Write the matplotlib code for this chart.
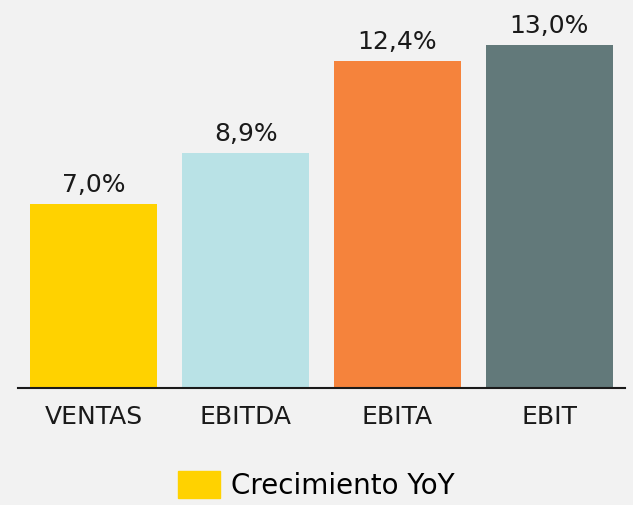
import matplotlib
matplotlib.use("Agg")
import matplotlib.pyplot as plt
from matplotlib.patches import Patch

# Data
categorias = ["VENTAS", "EBITDA", "EBITA", "EBIT"]
crecimiento = [7.0, 8.9, 12.4, 13.0]
colores = ["#FFD200", "#B9E2E6", "#F5833C", "#62797A"]
serie = "Crecimiento YoY"

plt.rcParams['font.family'] = ['DejaVu Sans']
fondo = "#F2F2F2"

fig = plt.figure(figsize=(6.33, 5.05), dpi=100, facecolor=fondo)
ax = fig.add_axes([18/633, (505-388)/505, (625-18)/633, (388-19)/505])
ax.set_facecolor(fondo)

x = range(len(categorias))
ax.bar(x, crecimiento, width=0.837, color=colores)

for xi, v in zip(x, crecimiento):
    ax.annotate(f"{v:.1f}%".replace(".", ","), (xi, v), xytext=(0, 5),
                textcoords="offset points", ha="center", va="bottom",
                fontsize=18, color="#1a1a1a")

ax.set_xlim(-0.5, 3.5)
ax.set_ylim(0, 14)
ax.set_xticks(list(x))
ax.set_xticklabels(categorias, fontsize=18, color="#1a1a1a")
ax.tick_params(axis="x", length=0, pad=12)
ax.set_yticks([])
for lado in ["top", "right", "left"]:
    ax.spines[lado].set_visible(False)
ax.spines["bottom"].set_linewidth(1.5)
ax.spines["bottom"].set_color("#1a1a1a")

# Legend only shows the first colour
fig.legend(handles=[Patch(color=colores[0], label=serie)], loc="lower center",
           bbox_to_anchor=(0.5, -0.04), frameon=False, fontsize=20,
           handlelength=1.5, handleheight=1.1, handletextpad=0.4)

fig.savefig("out.png", dpi=100, facecolor=fondo)
